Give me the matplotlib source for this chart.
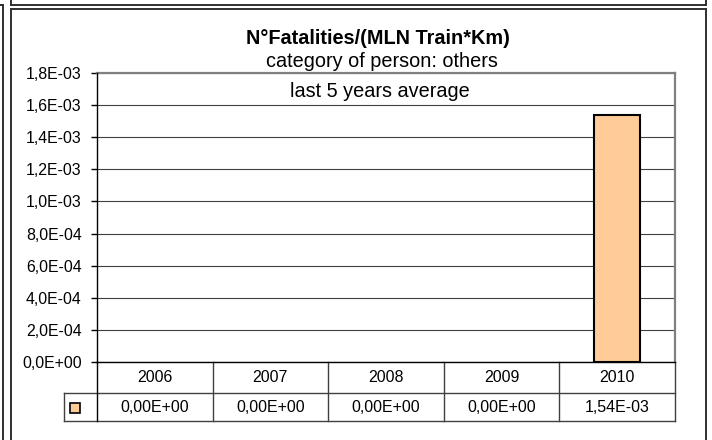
import matplotlib
matplotlib.use("Agg")
import matplotlib.pyplot as plt
from matplotlib.lines import Line2D
from matplotlib.transforms import blended_transform_factory

plt.rcParams['font.family'] = ['Liberation Sans', 'DejaVu Sans']

# ---- data ----
years = ["2006", "2007", "2008", "2009", "2010"]
values = [0.0, 0.0, 0.0, 0.0, 1.54e-03]
yticks = [0.0, 2e-4, 4e-4, 6e-4, 8e-4, 1.0e-3, 1.2e-3, 1.4e-3, 1.6e-3, 1.8e-3]
title = "N°Fatalities/(MLN Train*Km)"
subtitle1 = "category of person: others"
subtitle2 = "last 5 years average"

bar_color = "#FFCC99"
W, H = 712, 440
fig = plt.figure(figsize=(W / 100, H / 100), dpi=100)
fig.patch.set_facecolor("white")

def fx(px):
    return px / W

def fy(py):
    return 1 - py / H

# outer frame lines (chart decoration)
frame_kw = dict(color="#303030", lw=1.4, transform=fig.transFigure)
fig.add_artist(Line2D([fx(11), fx(706)], [fy(5), fy(5)], **frame_kw))
fig.add_artist(Line2D([fx(11), fx(11)], [fy(0), fy(5)], **frame_kw))
fig.add_artist(Line2D([fx(706), fx(706)], [fy(0), fy(5)], **frame_kw))
fig.add_artist(Line2D([fx(0), fx(3)], [fy(5), fy(5)], **frame_kw))
fig.add_artist(Line2D([fx(3), fx(3)], [fy(5), fy(440)], **frame_kw))
fig.add_artist(Line2D([fx(11), fx(706)], [fy(9), fy(9)], **frame_kw))
fig.add_artist(Line2D([fx(11), fx(11)], [fy(9), fy(440)], **frame_kw))
fig.add_artist(Line2D([fx(706), fx(706)], [fy(9), fy(440)], **frame_kw))

# plot area
left, right, top, bottom = 97, 675, 73, 362
ax = fig.add_axes([fx(left), fy(bottom), (right - left) / W, (bottom - top) / H])
ax.set_facecolor("white")

x = list(range(len(years)))
edges = ["black" if v > 0 else "none" for v in values]
ax.bar(x, values, width=0.4, color=bar_color, edgecolor=edges, linewidth=1.5, zorder=3)
ax.set_xlim(-0.5, len(years) - 0.5)
ax.set_ylim(0, 1.8e-3)
ax.set_yticks(yticks)
ax.set_yticklabels([f"{v:.1E}".replace(".", ",") for v in yticks], fontsize=11.4)
ax.set_xticks([])
ax.yaxis.grid(True, color="#404040", lw=0.8, zorder=0)
ax.set_axisbelow(True)
ax.tick_params(axis="y", direction="out", length=4, width=1, pad=7, colors="black")
for s in ("left", "bottom"):
    ax.spines[s].set_color("black")
    ax.spines[s].set_linewidth(1.0)
    ax.spines[s].set_zorder(4)
for s in ("top", "right"):
    ax.spines[s].set_color("#808080")
    ax.spines[s].set_linewidth(1.6)

# data table below the axis
trans = blended_transform_factory(ax.transData, ax.transAxes)
ph = bottom - top
cw = (right - left) / len(years)
y_row1 = -(393 - bottom) / ph
y_row2 = -(421 - bottom) / ph
y_txt1 = -(377.5 - bottom) / ph
y_txt2 = -(407.5 - bottom) / ph
x_key_left = -0.5 - (left - 64.3) / cw
x_key = -0.5 - (left - 74.5) / cw
tl = dict(color="#404040", lw=1.0, transform=trans, clip_on=False)
ax.add_line(Line2D([x_key_left, len(years) - 0.5], [y_row1, y_row1], **tl))
ax.add_line(Line2D([x_key_left, len(years) - 0.5], [y_row2, y_row2], **tl))
ax.add_line(Line2D([x_key_left, x_key_left], [y_row1, y_row2], **tl))
ax.add_line(Line2D([-0.5, -0.5], [0, y_row2], color="black", lw=1.0, transform=trans, clip_on=False))
for i in range(1, len(years) + 1):
    ax.add_line(Line2D([i - 0.5, i - 0.5], [0, y_row2], **tl))
for i, (yr, v) in enumerate(zip(years, values)):
    ax.text(i, y_txt1, yr, transform=trans, ha="center", va="center", fontsize=11.5)
    ax.text(i, y_txt2, f"{v:.2E}".replace(".", ","), transform=trans,
            ha="center", va="center", fontsize=11.5)
ax.plot([x_key], [y_txt2], marker="s", markersize=6.5, markerfacecolor=bar_color,
        markeredgecolor="black", markeredgewidth=1.2, transform=trans, clip_on=False)

# titles
fig.text(fx(378), fy(44), title, ha="center", va="baseline", fontsize=14.3, fontweight="bold")
fig.text(fx(382), fy(66.7), subtitle1, ha="center", va="baseline", fontsize=14.3)
fig.text(fx(380), fy(97.3), subtitle2, ha="center", va="baseline", fontsize=14.3)

fig.savefig("out.png", dpi=100, facecolor="white")
